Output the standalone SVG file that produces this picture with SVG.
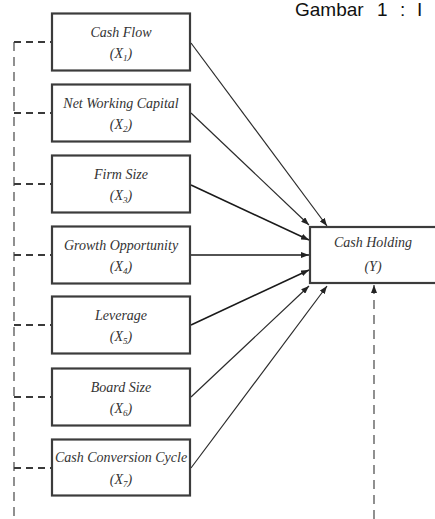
<svg xmlns="http://www.w3.org/2000/svg" width="435" height="519" viewBox="0 0 435 519">
<style>
.box{fill:#fff;stroke:#3c3c3c;stroke-width:2.2}
.lbl{font-family:"Liberation Serif","Times New Roman",serif;font-style:italic;font-size:14px;fill:#333;text-anchor:middle}
.arr{fill:none;stroke:#2a2a2a;stroke-width:1.2}
.arr2{fill:none;stroke:#1a1a1a;stroke-width:1.6}
.dash{fill:none;stroke:#3a3a3a;stroke-width:1.8;stroke-dasharray:7 5}
.vdash{fill:none;stroke:#555;stroke-width:1.3;stroke-dasharray:9 6}
.title{font-family:"Liberation Sans",Arial,sans-serif;font-size:19px;fill:#111}
</style>
<defs>
<marker id="ah" markerUnits="userSpaceOnUse" markerWidth="8" markerHeight="6" refX="8" refY="3" orient="auto">
<path d="M0,0 L8,3 L0,6 z" fill="#222"/>
</marker>
</defs>
<rect width="435" height="519" fill="#fff"/>
<text class="title" y="16"><tspan x="295">Gambar</tspan><tspan x="377">1</tspan><tspan x="400">:</tspan><tspan x="417">I</tspan></text>
<g id="connectors">
<path class="vdash" d="M14,42 V519"/>
<path class="dash" d="M14,42 H52"/>
<path class="dash" d="M14,113 H52"/>
<path class="dash" d="M14,184 H52"/>
<path class="dash" d="M14,255 H52"/>
<path class="dash" d="M14,325 H52"/>
<path class="dash" d="M14,397 H52"/>
<path class="dash" d="M14,468 H52"/>
<line class="arr" x1="191" y1="43" x2="327" y2="226" marker-end="url(#ah)"/>
<line class="arr" x1="191" y1="113" x2="309" y2="225" marker-end="url(#ah)"/>
<line class="arr2" x1="191" y1="185" x2="309" y2="240" marker-end="url(#ah)"/>
<line class="arr2" x1="191" y1="255" x2="309" y2="255" marker-end="url(#ah)"/>
<line class="arr2" x1="191" y1="325" x2="309" y2="270" marker-end="url(#ah)"/>
<line class="arr" x1="191" y1="397" x2="309" y2="286" marker-end="url(#ah)"/>
<line class="arr" x1="191" y1="468" x2="327" y2="286" marker-end="url(#ah)"/>
<line class="vdash" x1="374" y1="519" x2="374" y2="285" marker-end="url(#ah)"/>
</g>
<g id="x1"><rect class="box" x="52" y="13.5" width="138" height="57"/><text class="lbl" x="121" y="37">Cash Flow</text><text class="lbl" x="121" y="58">(X<tspan font-size="9" dy="3">1</tspan><tspan dy="-3">)</tspan></text></g>
<g id="x2"><rect class="box" x="52" y="84.5" width="138" height="57"/><text class="lbl" x="121" y="108">Net Working Capital</text><text class="lbl" x="121" y="129">(X<tspan font-size="9" dy="3">2</tspan><tspan dy="-3">)</tspan></text></g>
<g id="x3"><rect class="box" x="52" y="155.5" width="138" height="57"/><text class="lbl" x="121" y="179">Firm Size</text><text class="lbl" x="121" y="200">(X<tspan font-size="9" dy="3">3</tspan><tspan dy="-3">)</tspan></text></g>
<g id="x4"><rect class="box" x="52" y="226.5" width="138" height="57"/><text class="lbl" x="121" y="250">Growth Opportunity</text><text class="lbl" x="121" y="271">(X<tspan font-size="9" dy="3">4</tspan><tspan dy="-3">)</tspan></text></g>
<g id="x5"><rect class="box" x="52" y="296.5" width="138" height="57"/><text class="lbl" x="121" y="320">Leverage</text><text class="lbl" x="121" y="341">(X<tspan font-size="9" dy="3">5</tspan><tspan dy="-3">)</tspan></text></g>
<g id="x6"><rect class="box" x="52" y="368.5" width="138" height="57"/><text class="lbl" x="121" y="392">Board Size</text><text class="lbl" x="121" y="413">(X<tspan font-size="9" dy="3">6</tspan><tspan dy="-3">)</tspan></text></g>
<g id="x7"><rect class="box" x="52" y="439.5" width="138" height="56"/><text class="lbl" x="121" y="462">Cash Conversion Cycle</text><text class="lbl" x="121" y="484">(X<tspan font-size="9" dy="3">7</tspan><tspan dy="-3">)</tspan></text></g>
<g id="y"><rect class="box" x="310" y="227" width="130" height="56"/><text class="lbl" x="373" y="247">Cash Holding</text><text class="lbl" x="373" y="271">(Y)</text></g>
</svg>
